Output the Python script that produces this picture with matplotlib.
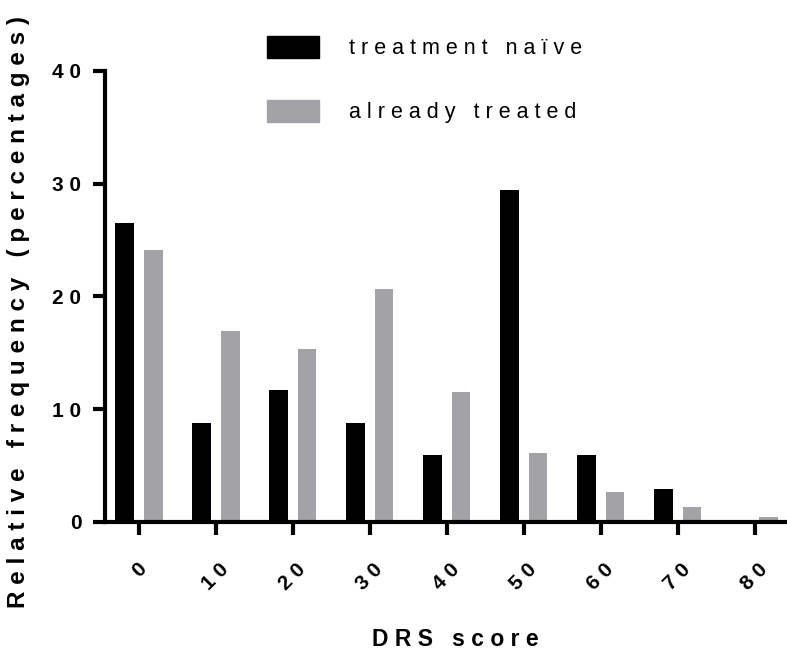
import numpy as np
import matplotlib
matplotlib.use("Agg")
import matplotlib.pyplot as plt
from matplotlib.patches import Patch

plt.rcParams['font.family'] = ['Liberation Sans', 'DejaVu Sans']

scores = [0, 10, 20, 30, 40, 50, 60, 70, 80]
naive = [26.5, 8.8, 11.7, 8.8, 5.9, 29.4, 5.9, 2.9, 0.0]
treated = [24.1, 16.9, 15.3, 20.7, 11.5, 6.1, 2.7, 1.3, 0.4]
yticks = [0, 10, 20, 30, 40]


def spaced(s):
    return " ".join(s)


fig = plt.figure(figsize=(7.87, 6.57), dpi=100)
ax = fig.add_axes([0.1334, 0.2055, 0.8666, 0.6865])

x = np.arange(len(scores))
w = 0.245
ax.bar(x - 0.185, naive, w, color="black", label="treatment naïve")
ax.bar(x + 0.185, treated, w, color="#a3a3a7", label="already treated")

ax.set_xlim(-0.44, 8.42)
ax.set_ylim(0, 40)

for s in ["top", "right"]:
    ax.spines[s].set_visible(False)
for s in ["left", "bottom"]:
    ax.spines[s].set_linewidth(3)

ax.set_yticks(yticks)
ax.set_yticklabels([spaced(str(v)) for v in yticks], fontsize=15, fontweight="bold")
ax.set_xticks(x)
ax.set_xticklabels([spaced(str(v)) for v in scores], fontsize=15, fontweight="bold",
                   rotation=45, ha="center", va="top")
ax.tick_params(axis="both", length=9, width=3, pad=8)
ax.tick_params(axis="x", pad=18)

# axis titles placed in figure pixels, as in the original
fig.text(19 / 787, 1 - 312 / 657,
         spaced("Relative frequency") + "   " + spaced("(percentages)"),
         fontsize=17.5, fontweight="bold", rotation=90, ha="center", va="center")
fig.text(0.578, 1 - 640 / 657, spaced("DRS") + "   " + spaced("score"),
         fontsize=16.5, fontweight="bold", ha="center", va="center")

handles = [Patch(color="black"), Patch(color="#a3a3a7")]
labels = [spaced("treatment naïve"), spaced("already treated")]
fig.legend(handles, labels, loc="upper left", bbox_to_anchor=(0.315, 0.975),
           frameon=False, fontsize=15.5, handlelength=2.4, handleheight=1.2,
           labelspacing=1.9, handletextpad=1.4)

fig.savefig("out.png", dpi=100)
